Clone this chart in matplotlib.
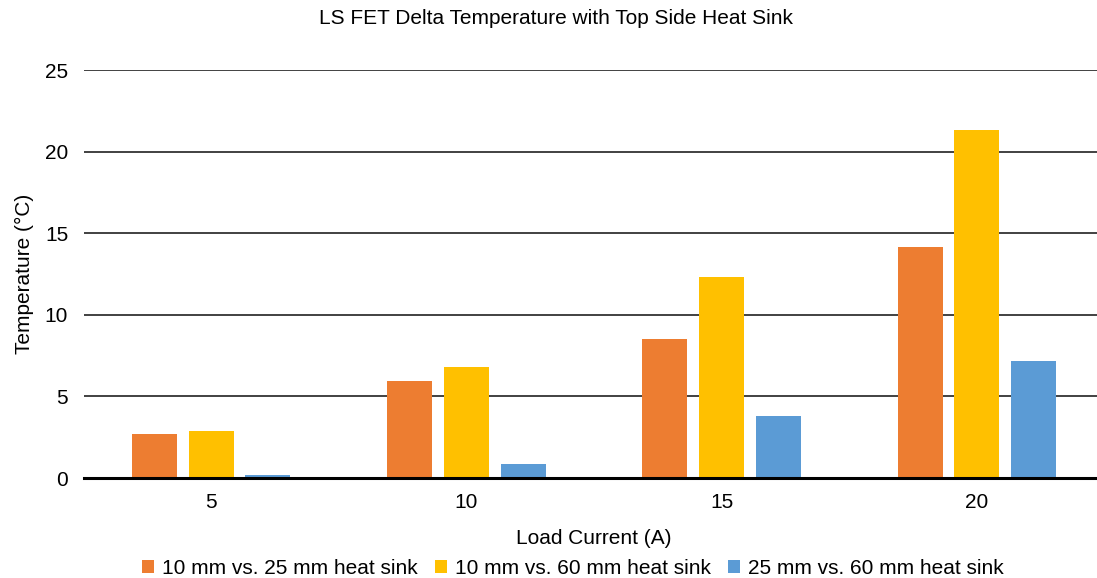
import numpy as np
import matplotlib.pyplot as plt

plt.rcParams['font.family'] = ['Liberation Sans', 'DejaVu Sans']

currents = ['5', '10', '15', '20']
series_names = ['10 mm vs. 25 mm heat sink', '10 mm vs. 60 mm heat sink', '25 mm vs. 60 mm heat sink']
d_10_25 = [2.68, 5.92, 8.51, 14.15]
d_10_60 = [2.89, 6.82, 12.33, 21.33]
d_25_60 = [0.17, 0.84, 3.8, 7.15]
colors = ['#ED7D31', '#FFC000', '#5B9BD5']

fig = plt.figure(figsize=(10.97, 5.78), dpi=100)
ax = fig.add_axes([83.5/1097, 1-478/578, 1021/1097, (478-70)/578])

x = np.arange(len(currents))
w = 0.176
off = 0.222
for i, (vals, c, name) in enumerate(zip([d_10_25, d_10_60, d_25_60], colors, series_names)):
    ax.bar(x + (i-1)*off, vals, width=w, color=c, label=name, zorder=3)

ax.set_xlim(-0.5, 3.5)
ax.set_ylim(0, 25)
ax.set_yticks([0, 5, 10, 15, 20, 25])
ax.set_xticks(x)
ax.set_xticklabels(currents)
ax.yaxis.grid(True, color='#333333', linewidth=1.3, zorder=0)
ax.axhline(0, color='black', linewidth=2.2, zorder=4, clip_on=False)
for s in ax.spines.values():
    s.set_visible(False)
ax.tick_params(length=0, labelsize=15, pad=11)

ax.set_ylabel('Temperature (°C)', fontsize=15, labelpad=8)
ax.set_xlabel('Load Current (A)', fontsize=15, labelpad=12)
fig.text(0.507, 1-19/578, 'LS FET Delta Temperature with Top Side Heat Sink',
         ha='center', va='center', fontsize=15)

fig.legend(loc='center', bbox_to_anchor=(0.522, 1-568/578), ncol=3, frameon=False,
           fontsize=15, handlelength=0.58, handleheight=0.58, handletextpad=0.38,
           columnspacing=0.82)

plt.savefig('out.png')
